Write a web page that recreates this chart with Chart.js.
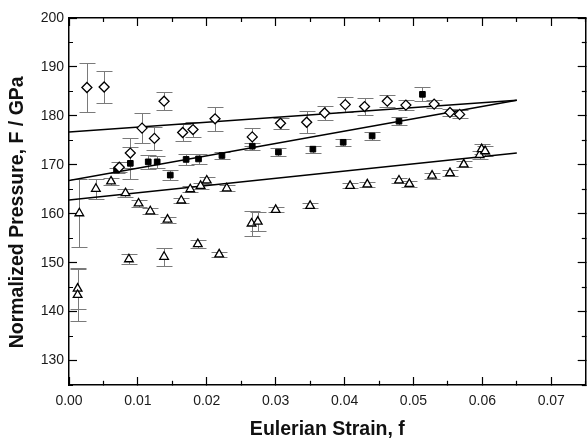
<!DOCTYPE html>
<html>
<head>
<meta charset="utf-8">
<script src="https://cdn.jsdelivr.net/npm/chart.js@4.4.1/dist/chart.umd.min.js"></script>
<style>
    html, body { margin: 0; padding: 0; background: #fff; overflow: hidden; }
    #wrap { width: 592px; height: 439px; }
</style>
</head>
<body>
<div id="wrap"><canvas id="chart"></canvas></div>
<script>
(function () {
    'use strict';

    // open diamonds
    const diamondX = [0.0026, 0.0051, 0.0073, 0.0089, 0.0106, 0.0124, 0.0138, 0.0165, 0.0180, 0.0212, 0.0266,
        0.0307, 0.0345, 0.0371, 0.0401, 0.0429, 0.0462, 0.0489, 0.0530, 0.0553, 0.0567];
    const diamondP = [185.8, 185.9, 169.5, 172.4, 177.5, 175.4, 183.0, 176.6, 177.2, 179.4, 175.7,
        178.5, 178.7, 180.6, 182.3, 181.9, 183.0, 182.2, 182.4, 180.7, 180.3];
    const diamondErr = [5.0, 3.3, 1.0, 3.0, 3.0, 2.4, 1.9, 1.7, 1.5, 2.5, 1.9,
        1.1, 2.2, 1.4, 1.5, 1.8, 1.2, 1.0, 0.8, 0.8, 0.8];

    // filled squares
    const squareX = [0.0069, 0.0089, 0.0115, 0.0128, 0.0147, 0.0170, 0.0188, 0.0222, 0.0266, 0.0304,
        0.0354, 0.0398, 0.0440, 0.0479, 0.0513];
    const squareP = [168.9, 170.3, 170.6, 170.6, 167.9, 171.1, 171.2, 171.9, 173.8, 172.6,
        173.2, 174.6, 175.9, 178.9, 184.4];
    const squareErr = [0.5, 3.3, 1.5, 1.2, 1.0, 1.2, 1.0, 0.7, 0.7, 0.8,
        0.7, 0.7, 0.8, 0.8, 1.4];

    // open triangles
    const triangleX = [0.0015, 0.00125, 0.00125, 0.0039, 0.0061, 0.0082, 0.0087, 0.0101, 0.0118, 0.0138,
        0.0143, 0.0163, 0.0176, 0.0187, 0.0191, 0.0200, 0.0218, 0.0229, 0.0265, 0.0274,
        0.0300, 0.0350, 0.0408, 0.0433, 0.0479, 0.0494, 0.0527, 0.0553, 0.0573, 0.0596,
        0.0599, 0.0604];
    const triangleP = [160.1, 144.7, 143.4, 165.1, 166.6, 164.2, 150.7, 162.1, 160.5, 151.2,
        158.8, 162.7, 165.0, 153.8, 165.7, 166.8, 151.7, 165.2, 158.0, 158.4,
        160.8, 161.6, 165.7, 166.0, 166.8, 166.1, 167.8, 168.3, 170.1, 172.0,
        173.2, 172.8];
    const triangleErr = [7.0, 4.2, 5.3, 2.0, 0.8, 0.8, 1.0, 0.7, 0.6, 1.8,
        0.6, 0.6, 0.6, 0.8, 0.6, 0.8, 0.5, 0.6, 2.5, 1.9,
        0.5, 0.5, 0.5, 0.5, 0.6, 0.6, 0.6, 0.6, 0.6, 0.8,
        1.0, 1.0];

    // linear fits
    const fitX = [0, 0.065];
    const diamondFit = [176.7, 183.2];
    const squareFit = [166.8, 183.2];
    const triangleFit = [162.8, 172.4];

    const xTicks = { min: 0, max: 0.075, step: 0.005 };
    const yTicks = { min: 125, max: 200, step: 5 };

    Chart.defaults.font.family = "'Liberation Sans', Arial, sans-serif";
    Chart.defaults.color = '#1a1a1a';

    function points(xs, ys) {
        return xs.map((x, i) => ({ x, y: ys[i] }));
    }

    function isMajorX(v) {
        return Math.abs(v * 100 - Math.round(v * 100)) < 1e-6;
    }

    function isMajorY(v) {
        return Math.abs(v % 10) < 1e-6;
    }

    const errorBars = {
        id: 'errorBars',
        beforeDatasetsDraw(chart) {
            const { ctx, scales: { x, y } } = chart;
            ctx.save();
            ctx.strokeStyle = '#7a7a7a';
            ctx.lineWidth = 1;
            chart.data.datasets.forEach((ds) => {
                if (!ds.errors) return;
                ds.data.forEach((pt, i) => {
                    const px = Math.round(x.getPixelForValue(pt.x)) + 0.5;
                    const top = Math.round(y.getPixelForValue(pt.y + ds.errors[i])) + 0.5;
                    const bottom = Math.round(y.getPixelForValue(pt.y - ds.errors[i])) + 0.5;
                    ctx.beginPath();
                    ctx.moveTo(px, top);
                    ctx.lineTo(px, bottom);
                    ctx.moveTo(px - 8, top);
                    ctx.lineTo(px + 8, top);
                    ctx.moveTo(px - 8, bottom);
                    ctx.lineTo(px + 8, bottom);
                    ctx.stroke();
                });
            });
            ctx.restore();
        }
    };

    // ticks point inward; minor ticks are shortened with a dash pattern
    function axis(position, range, majorFn, size, labels, title) {
        const fromAxis = position === 'bottom' || position === 'right';
        const minorDash = fromAxis ? [4.7, 100] : [0, 4, 30, 100];
        return {
            type: 'linear',
            position,
            axis: position === 'bottom' || position === 'top' ? 'x' : 'y',
            min: range.min,
            max: range.max,
            afterFit(scale) {
                if (scale.isHorizontal()) scale.height = size;
                else scale.width = size;
                scale.paddingLeft = 0;
                scale.paddingRight = 0;
                scale.paddingTop = 0;
                scale.paddingBottom = 0;
            },
            border: { display: true, color: '#000', width: 1.5 },
            grid: {
                display: true,
                drawOnChartArea: false,
                drawTicks: true,
                tickLength: -8,
                tickColor: '#000',
                tickWidth: 1.2,
                tickBorderDash: (ctx) => (ctx.tick && majorFn(ctx.tick.value) ? [] : minorDash)
            },
            ticks: {
                display: labels,
                stepSize: range.step,
                autoSkip: false,
                maxRotation: 0,
                padding: position === 'left' ? 13 : 16,
                color: '#1a1a1a',
                font: { size: 14 },
                callback: (v) => {
                    if (!majorFn(v)) return '';
                    return position === 'bottom' ? v.toFixed(2) : String(Math.round(v));
                }
            },
            title: title ? {
                display: true,
                text: title,
                color: '#111',
                font: { size: 19.5, weight: 'bold' },
                padding: position === 'left' ? { top: 6, bottom: 0 } : { top: 0, bottom: -2 }
            } : { display: false }
        };
    }

    function fitLine(ys) {
        return {
            type: 'line',
            data: points(fitX, ys),
            borderColor: '#000',
            borderWidth: 1.6,
            pointRadius: 0,
            showLine: true,
            fill: false,
            order: 2
        };
    }

    new Chart(document.getElementById('chart'), {
        type: 'scatter',
        data: {
            datasets: [
                fitLine(diamondFit),
                fitLine(squareFit),
                fitLine(triangleFit),
                {
                    data: points(diamondX, diamondP),
                    errors: diamondErr,
                    pointStyle: 'rectRot',
                    pointRadius: 5,
                    backgroundColor: '#fff',
                    borderColor: '#000',
                    borderWidth: 1.3,
                    order: 1
                },
                {
                    data: points(squareX, squareP),
                    errors: squareErr,
                    pointStyle: 'rect',
                    pointRadius: 4,
                    backgroundColor: '#000',
                    borderColor: '#000',
                    borderWidth: 1,
                    order: 1
                },
                {
                    data: points(triangleX, triangleP),
                    errors: triangleErr,
                    pointStyle: 'triangle',
                    pointRadius: 5,
                    backgroundColor: '#fff',
                    borderColor: '#000',
                    borderWidth: 1.3,
                    order: 1
                }
            ]
        },
        options: {
            responsive: true,
            maintainAspectRatio: false,
            animation: false,
            events: [],
            layout: { padding: 0 },
            plugins: {
                legend: { display: false },
                tooltip: { enabled: false }
            },
            scales: {
                x: axis('bottom', xTicks, isMajorX, 54, true, 'Eulerian Strain, f'),
                y: axis('left', yTicks, isMajorY, 69, true, 'Normalized Pressure, F / GPa    '),
                x2: axis('top', xTicks, isMajorX, 18, false, null),
                y2: axis('right', yTicks, isMajorY, 4, false, null)
            }
        },
        plugins: [errorBars]
    });
})();
</script>
</body>
</html>
